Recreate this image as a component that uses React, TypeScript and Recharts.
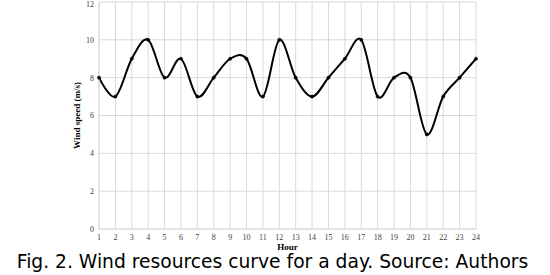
import { CartesianGrid, Line, LineChart, XAxis, YAxis } from "recharts";

// Hourly wind speed (m/s) over one day
const HOURS = [1, 2, 3, 4, 5, 6, 7, 8, 9, 10, 11, 12, 13, 14, 15, 16, 17, 18, 19, 20, 21, 22, 23, 24];
const SPEED = [8, 7, 9, 10, 8, 9, 7, 8, 9, 9, 7, 10, 8, 7, 8, 9, 10, 7, 8, 8, 5, 7, 8, 9];
const Y_TICKS = [0, 2, 4, 6, 8, 10, 12];

const DATA = HOURS.map((h, i) => ({ h, v: SPEED[i] }));

// Excel-like smoothed line: cardinal spline with zero tension (k = 1/6)
function excelSmooth(context: any) {
  const k = 1 / 6;
  let x0 = NaN, y0 = NaN, x1 = NaN, y1 = NaN, x2 = NaN, y2 = NaN;
  let state = 0;
  let line = NaN;
  const seg = (x: number, y: number) => {
    context.bezierCurveTo(
      x1 + k * (x2 - x0),
      y1 + k * (y2 - y0),
      x2 + k * (x1 - x),
      y2 + k * (y1 - y),
      x2,
      y2
    );
  };
  return {
    areaStart() { line = 0; },
    areaEnd() { line = NaN; },
    lineStart() {
      x0 = x1 = x2 = y0 = y1 = y2 = NaN;
      state = 0;
    },
    lineEnd() {
      if (state === 2) context.lineTo(x2, y2);
      else if (state === 3) seg(x1, y1);
      if (line || (line !== 0 && state === 1)) context.closePath();
      line = 1 - line;
    },
    point(x: number, y: number) {
      x = +x; y = +y;
      if (state === 0) {
        state = 1;
        line ? context.lineTo(x, y) : context.moveTo(x, y);
      } else if (state === 1) {
        state = 2;
        x1 = x; y1 = y;
      } else {
        state = 3;
        seg(x, y);
      }
      x0 = x1; x1 = x2; x2 = x;
      y0 = y1; y1 = y2; y2 = y;
    },
  };
}

const tickStyle = { fontSize: 8, fill: "#404040", fontFamily: "'Liberation Serif', serif" };

export default function App() {
  return (
    <div style={{ position: "absolute", left: 0, top: 0, width: 550, height: 275, background: "#fff" }}>
      <LineChart
        width={550}
        height={256}
        data={DATA}
        margin={{ top: 2, right: 74, bottom: 0, left: 69 }}
      >
        <CartesianGrid stroke="#d9d9d9" strokeWidth={1} />
        <XAxis
          dataKey="h"
          type="number"
          domain={[1, 24]}
          ticks={HOURS}
          interval={0}
          height={27}
          tick={tickStyle}
          tickLine={false}
          tickSize={3}
          axisLine={{ stroke: "#d9d9d9" }}
          label={{
            value: "Hour",
            position: "insideBottom",
            offset: 6,
            style: { fontSize: 9, fontWeight: "bold", fill: "#000", fontFamily: "'Liberation Serif', serif" },
          }}
        />
        <YAxis
          domain={[0, 12]}
          ticks={Y_TICKS}
          width={30}
          tick={tickStyle}
          tickLine={false}
          tickSize={3}
          axisLine={{ stroke: "#d9d9d9" }}
          label={{
            value: "Wind speed (m/s)",
            angle: -90,
            position: "insideLeft",
            offset: 8,
            style: {
              fontSize: 9,
              fontWeight: "bold",
              fill: "#000",
              fontFamily: "'Liberation Serif', serif",
              textAnchor: "middle",
            },
          }}
        />
        <Line
          dataKey="v"
          type={excelSmooth as any}
          stroke="#000"
          strokeWidth={2}
          dot={{ r: 1.6, fill: "#000", stroke: "#000", strokeWidth: 0.5 }}
          isAnimationActive={false}
        />
      </LineChart>
      <div
        style={{
          position: "absolute",
          left: 0,
          top: 253,
          width: 545,
          textAlign: "center",
          fontFamily: "'DejaVu Sans', Verdana, sans-serif",
          fontSize: 18.7,
          lineHeight: "18px",
          color: "#000",
          whiteSpace: "nowrap",
        }}
      >
        Fig. 2. Wind resources curve for a day. Source: Authors
      </div>
    </div>
  );
}
